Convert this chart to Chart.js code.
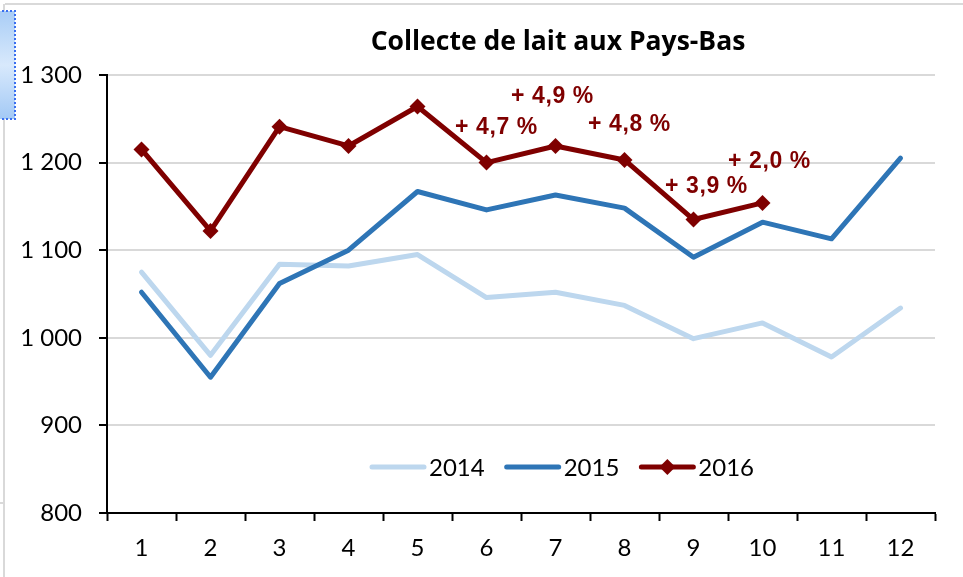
<!DOCTYPE html>
<html>
<head>
<meta charset="utf-8">
<script src="https://cdn.jsdelivr.net/npm/chart.js@4/dist/chart.umd.min.js"></script>
<style>
  html, body { margin: 0; padding: 0; background: #fff; }
  #wrap { width: 963px; height: 577px; position: relative; }
</style>
</head>
<body>
<div id="wrap"><canvas id="c" width="963" height="577"></canvas></div>
<script>
const chartTitle = "Collecte de lait aux Pays-Bas";
const months = ["1","2","3","4","5","6","7","8","9","10","11","12"];
const seriesNames = ["2014", "2015", "2016"];
const values2014 = [1075, 980, 1084, 1082, 1095, 1046, 1052, 1037, 999, 1017, 978, 1034];
const values2015 = [1052, 955, 1062, 1100, 1167, 1146, 1163, 1148, 1092, 1132, 1113, 1205];
const values2016 = [1215, 1122, 1241, 1219, 1264, 1200, 1219, 1203, 1135, 1154, null, null];
const yTicks = [800, 900, 1000, 1100, 1200, 1300];
const growthMonths = ["6", "7", "8", "9", "10"];
const growthLabels = ["+ 4,7 %", "+ 4,9 %", "+ 4,8 %", "+ 3,9 %", "+ 2,0 %"];

const colors = ["#bdd7ee", "#2e75b6", "#7f0000"];
// pixel offsets of growth labels relative to their 2016 point (styling only)
const labelOffsets = [[10, -35], [-3, -49], [5, -35], [13, -33], [7, -41]];

function fmt(v) {
  const s = String(v);
  return s.length > 3 ? s.slice(0, s.length - 3) + " " + s.slice(-3) : s;
}

const decoPlugin = {
  id: "deco",
  beforeDraw(chart) {
    const ctx = chart.ctx;
    ctx.save();
    ctx.fillStyle = "#ffffff";
    ctx.fillRect(0, 0, chart.width, chart.height);
    ctx.strokeStyle = "#d9d9d9";
    ctx.lineWidth = 2;
    ctx.beginPath();
    ctx.moveTo(5, 4); ctx.lineTo(chart.width, 4);
    ctx.moveTo(4, 4); ctx.lineTo(4, chart.height);
    ctx.moveTo(0, 503); ctx.lineTo(4, 503);
    ctx.stroke();
    const g = ctx.createLinearGradient(0, 11, 0, 119);
    g.addColorStop(0, "#a9cdf6");
    g.addColorStop(0.5, "#d8e9fc");
    g.addColorStop(1, "#a3c9f5");
    ctx.fillStyle = g;
    ctx.fillRect(0, 11, 15, 108);
    ctx.strokeStyle = "#3a6ff0";
    ctx.lineWidth = 2;
    ctx.setLineDash([2, 2]);
    ctx.strokeRect(-2, 11, 17, 108);
    ctx.setLineDash([]);
    ctx.restore();
  },
  afterDraw(chart) {
    const ctx = chart.ctx;
    const area = chart.chartArea;
    ctx.save();
    ctx.fillStyle = "#000";
    ctx.font = "bold 26.5px 'Open Sans'";
    ctx.textAlign = "center";
    ctx.textBaseline = "middle";
    ctx.fillText(chartTitle, (area.left + area.right) / 2 + 37, 42);

    const xs = chart.scales.x, ys = chart.scales.y;
    ctx.font = "bold 23px 'Liberation Sans'";
    ctx.letterSpacing = "0.6px";
    ctx.fillStyle = colors[2];
    growthMonths.forEach((m, i) => {
      const idx = months.indexOf(m);
      const px = xs.getPixelForValue(idx);
      const py = ys.getPixelForValue(values2016[idx]);
      ctx.fillText(growthLabels[i], px + labelOffsets[i][0], py + labelOffsets[i][1]);
    });
    ctx.letterSpacing = "0px";

    ctx.font = "24px Lato";
    ctx.textAlign = "left";
    let x = 370;
    const y = 467;
    chart.data.datasets.forEach((ds) => {
      ctx.strokeStyle = ds.borderColor;
      ctx.lineWidth = 5;
      ctx.lineCap = "round";
      ctx.beginPath();
      ctx.moveTo(x + 2, y); ctx.lineTo(x + 54, y);
      ctx.stroke();
      if (ds.pointRadius > 0) {
        ctx.fillStyle = ds.borderColor;
        ctx.beginPath();
        const cx = x + 28, r = 8;
        ctx.moveTo(cx, y - r); ctx.lineTo(cx + r, y); ctx.lineTo(cx, y + r); ctx.lineTo(cx - r, y);
        ctx.closePath(); ctx.fill();
      }
      ctx.fillStyle = "#000";
      ctx.fillText(ds.label, x + 59, y + 1);
      x += 59 + ctx.measureText(ds.label).width + 20;
    });
    ctx.restore();
  }
};

const datasets = [
  { label: seriesNames[0], data: values2014, borderColor: colors[0], backgroundColor: colors[0], borderWidth: 5, pointRadius: 0, order: 2 },
  { label: seriesNames[1], data: values2015, borderColor: colors[1], backgroundColor: colors[1], borderWidth: 5, pointRadius: 0, order: 1 },
  { label: seriesNames[2], data: values2016, borderColor: colors[2], backgroundColor: colors[2], borderWidth: 5, pointRadius: 8, pointHoverRadius: 8, pointStyle: "rectRot", pointBorderWidth: 0, order: 0 }
].map(d => Object.assign({ tension: 0, borderCapStyle: "round", borderJoinStyle: "round", spanGaps: false, fill: false }, d));

new Chart(document.getElementById("c"), {
  type: "line",
  data: { labels: months, datasets },
  options: {
    responsive: false,
    animation: false,
    devicePixelRatio: 1,
    layout: { padding: { top: 75, right: 28, left: 0, bottom: 0 } },
    plugins: { legend: { display: false }, title: { display: false }, tooltip: { enabled: false } },
    scales: {
      x: {
        type: "category",
        offset: true,
        afterFit(s) { s.height = 64; },
        grid: { offset: true, drawOnChartArea: false, drawTicks: true, tickLength: 8, tickColor: "#000", tickWidth: 2 },
        border: { display: true, color: "#000", width: 2 },
        ticks: { color: "#000", font: { family: "Lato", size: 24 }, padding: 13, maxRotation: 0, autoSkip: false }
      },
      y: {
        min: 800, max: 1300,
        afterFit(s) { s.width = 107; },
        afterBuildTicks(s) { s.ticks = yTicks.map(v => ({ value: v })); },
        grid: { color: "#d9d9d9", lineWidth: 2, drawTicks: true, tickLength: 8, tickColor: "#000", tickWidth: 2 },
        border: { display: true, color: "#000", width: 2 },
        ticks: { color: "#000", font: { family: "Lato", size: 24 }, padding: 17, callback: (v) => fmt(v) }
      }
    }
  },
  plugins: [decoPlugin]
});
</script>
</body>
</html>
